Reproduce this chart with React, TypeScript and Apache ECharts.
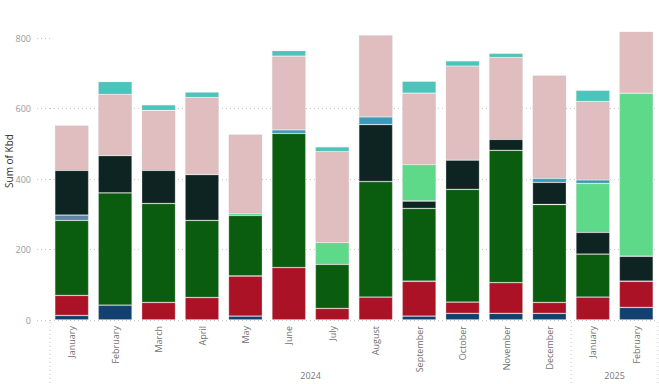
import React, { useEffect, useRef } from 'react';
import * as echarts from 'echarts';

const months = ['January', 'February', 'March', 'April', 'May', 'June', 'July', 'August', 'September', 'October', 'November', 'December', 'January', 'February'];
const years = ['2024', '2024', '2024', '2024', '2024', '2024', '2024', '2024', '2024', '2024', '2024', '2024', '2025', '2025'];
const yearGroups = ['2024', '2025'];
const yTickValues = [0, 200, 400, 600, 800];

const navyValues = [13, 42, 0, 0, 11, 0, 0, 0, 11, 19, 19, 19, 0, 36];
const redValues = [57, 0, 50, 64, 114, 149, 33, 65, 99, 32, 87, 31, 65, 74];
const greenValues = [213, 319, 281, 219, 172, 381, 125, 328, 207, 320, 376, 278, 122, 0];
const steelValues = [15, 0, 0, 0, 0, 0, 0, 0, 0, 0, 0, 0, 0, 0];
const darkValues = [127, 106, 94, 130, 0, 0, 0, 162, 21, 83, 31, 63, 62, 71];
const lightGreenValues = [0, 0, 0, 0, 6, 0, 62, 0, 103, 0, 0, 0, 139, 463];
const blueValues = [0, 0, 0, 0, 0, 10, 0, 22, 0, 0, 0, 11, 10, 0];
const pinkValues = [128, 174, 170, 219, 224, 209, 258, 232, 203, 267, 233, 293, 223, 175];
const tealValues = [0, 36, 16, 15, 0, 16, 14, 0, 34, 15, 11, 0, 31, 0];

const seriesDefs = [
  { name: 'Series 1', color: '#12406f', values: navyValues },
  { name: 'Series 2', color: '#ab1226', values: redValues },
  { name: 'Series 3', color: '#0a5c0e', values: greenValues },
  { name: 'Series 4', color: '#5b86a8', values: steelValues },
  { name: 'Series 5', color: '#0d2422', values: darkValues },
  { name: 'Series 6', color: '#5ed98a', values: lightGreenValues },
  { name: 'Series 7', color: '#3a9abb', values: blueValues },
  { name: 'Series 8', color: '#e0bdbe', values: pinkValues },
  { name: 'Series 9', color: '#4bc4bb', values: tealValues },
];

const FONT = '"Open Sans", "Segoe UI", sans-serif';

export default function App() {
  const ref = useRef<HTMLDivElement>(null);

  useEffect(() => {
    document.body.style.margin = '0';
    if (!ref.current) return;
    const chart = echarts.init(ref.current, undefined, { renderer: 'svg' });
    chart.setOption({
      animation: false,
      grid: { left: 50, right: 1, top: 20.7, bottom: 64, containLabel: false },
      xAxis: {
        type: 'category',
        data: months,
        axisLine: { show: false },
        axisTick: { show: false },
        axisLabel: {
          rotate: 90,
          margin: 6,
          fontSize: 9,
          color: '#707070',
          fontFamily: FONT,
          interval: 0,
        },
      },
      yAxis: {
        type: 'value',
        min: 0,
        max: 850,
        axisLine: { show: false },
        axisTick: { show: true, length: 13, customValues: yTickValues, lineStyle: { color: '#c8c8c8', type: [1, 3] } },
        axisLabel: { margin: 19, fontSize: 9, color: '#9a9a9a', fontFamily: FONT, customValues: yTickValues },
        splitLine: { showMaxLine: false, lineStyle: { color: '#c8c8c8', type: [1, 3] } },
      },
      series: seriesDefs.map((s) => ({
        name: s.name,
        type: 'bar',
        stack: 'total',
        barCategoryGap: '22%',
        itemStyle: { color: s.color, borderColor: 'rgba(200,200,200,0.35)', borderWidth: 0.8 },
        data: s.values.map((v) => (v === 0 ? '-' : v)),
      })),
    });

    const c0 = chart.convertToPixel({ xAxisIndex: 0 }, 0) as number;
    const c1 = chart.convertToPixel({ xAxisIndex: 0 }, 1) as number;
    const band = c1 - c0;
    const graphics: any[] = [
      {
        type: 'text',
        x: 9,
        y: 161,
        rotation: Math.PI / 2,
        style: { text: 'Sum of Kbd', fontSize: 10, fill: '#333', fontFamily: FONT, align: 'center', verticalAlign: 'middle' },
      },
    ];
    const bounds: number[] = [];
    yearGroups.forEach((yr, gi) => {
      const idx = years.map((y, i) => (y === yr ? i : -1)).filter((i) => i >= 0);
      const first = idx[0];
      const last = idx[idx.length - 1];
      const left = (chart.convertToPixel({ xAxisIndex: 0 }, first) as number) - band / 2;
      const right = (chart.convertToPixel({ xAxisIndex: 0 }, last) as number) + band / 2;
      if (gi === 0) bounds.push(left);
      bounds.push(right);
      graphics.push({
        type: 'text',
        x: (left + right) / 2,
        y: 375,
        style: { text: yr, fontSize: 9, fill: '#777', fontFamily: FONT, align: 'center', verticalAlign: 'middle' },
      });
    });
    bounds.forEach((bx) => {
      graphics.push({
        type: 'line',
        shape: { x1: bx, y1: 322, x2: bx, y2: 384 },
        style: { stroke: '#c8c8c8', lineWidth: 1, lineDash: [1, 3] },
      });
    });
    chart.setOption({ graphic: graphics });

    return () => chart.dispose();
  }, []);

  return <div ref={ref} style={{ width: 659, height: 384 }} />;
}
